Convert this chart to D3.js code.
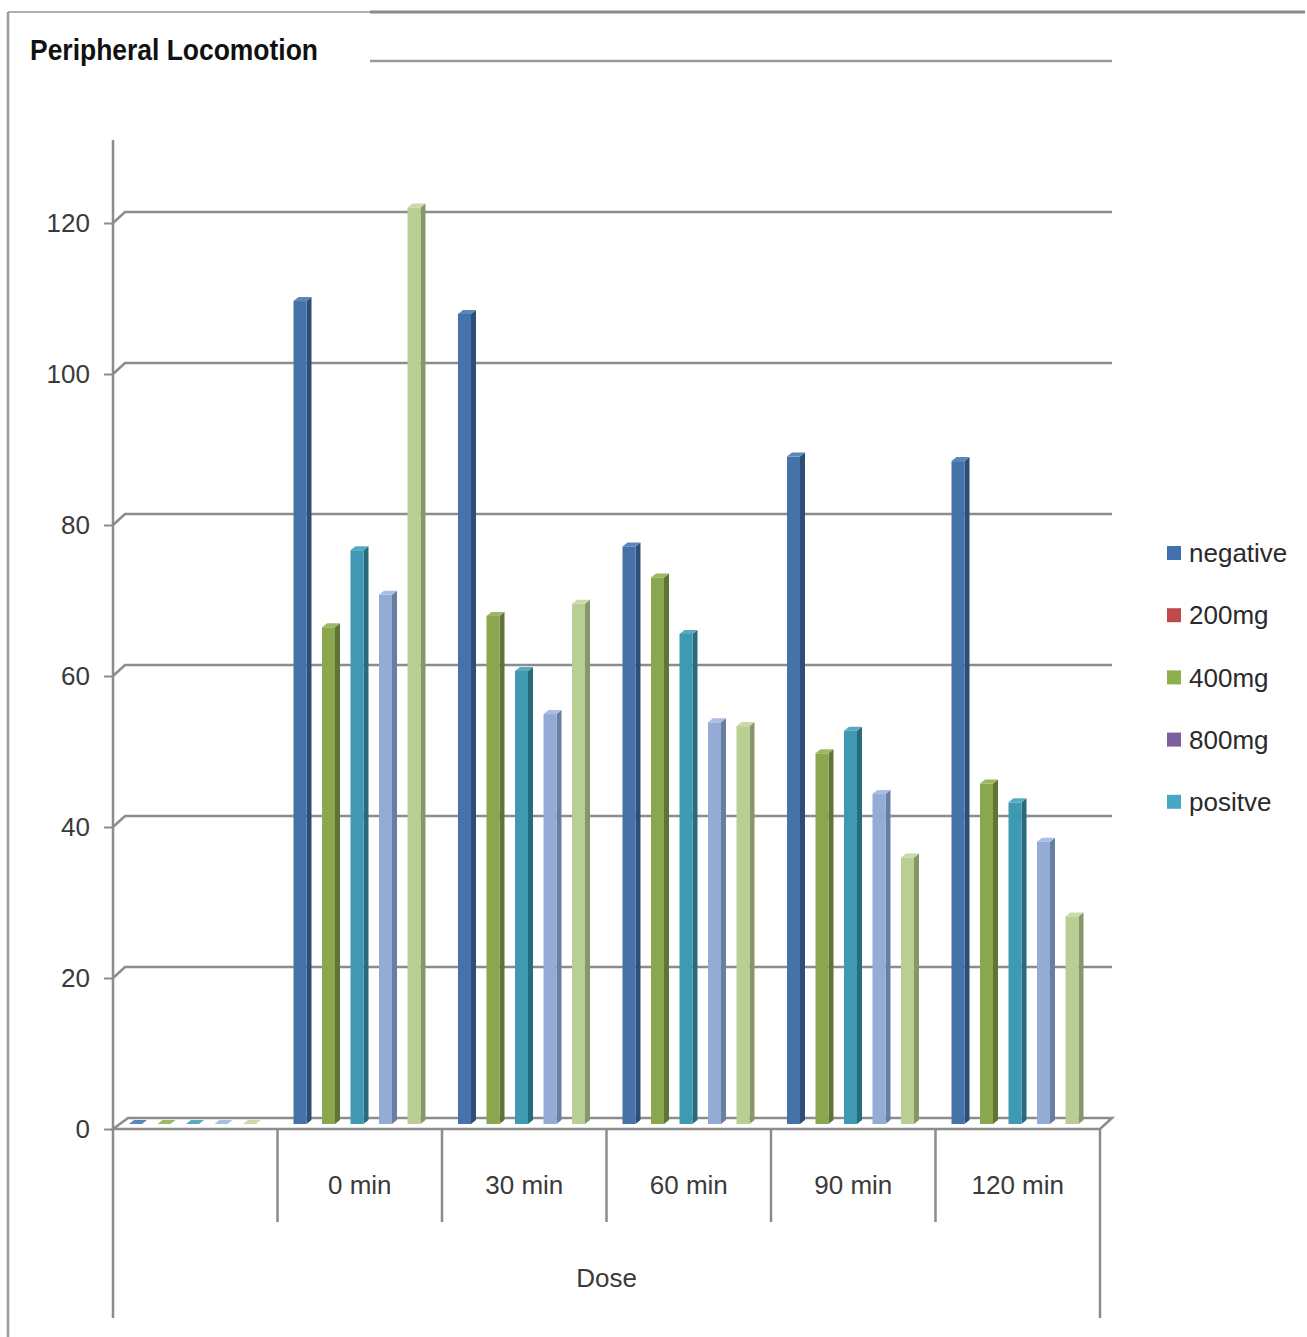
<!DOCTYPE html>
<html>
<head>
<meta charset="utf-8">
<script src="https://cdn.jsdelivr.net/npm/d3@7"></script>
<style>
  html, body { margin: 0; padding: 0; background: #fff; }
  svg { display: block; }
</style>
</head>
<body>
<svg id="chart" width="1307" height="1337"></svg>
<script>
// ---- data ----
const categories = ["", "0 min", "30 min", "60 min", "90 min", "120 min"];
const seriesNames = ["negative", "200mg", "400mg", "800mg", "positve"];
const negative = [0, 109, 107.3, 76.5, 88.4, 87.8];
const dose200 = [0, 65.8, 67.3, 72.4, 49.1, 45.1];
const dose400 = [0, 76, 60, 64.9, 52.1, 42.6];
const dose800 = [0, 70.1, 54.3, 53.2, 43.7, 37.4];
const positve = [0, 121.4, 68.9, 52.7, 35.3, 27.5];
const yTicks = [0, 20, 40, 60, 80, 100, 120];

const seriesValues = [negative, dose200, dose400, dose800, positve];
// column faces: front, side, top
const barColors = [
  ["#4572A9", "#2D4E78", "#5A86BC"],
  ["#8AA64E", "#5E7535", "#9DB864"],
  ["#3F99B2", "#296B7D", "#56ABC2"],
  ["#94ABD5", "#6A7DA2", "#A9BEE0"],
  ["#B8CE93", "#86986A", "#C8DBA8"]
];
const legendColors = ["#4170AD", "#BE4B48", "#8DB04F", "#7D5FA0", "#46A8C6"];

const svg = d3.select("#chart");
const FONT = "'Liberation Sans', Arial, sans-serif";

// ---- frame ----
const frame = svg.append("g").attr("fill", "none");
frame.append("line").attr("x1", 8).attr("y1", 12).attr("x2", 370).attr("y2", 12)
  .attr("stroke", "#b0b0b0").attr("stroke-width", 2);
frame.append("line").attr("x1", 370).attr("y1", 12).attr("x2", 1305).attr("y2", 12)
  .attr("stroke", "#8a8a8a").attr("stroke-width", 3);
frame.append("line").attr("x1", 8).attr("y1", 12).attr("x2", 8).attr("y2", 1337)
  .attr("stroke", "#9a9a9a").attr("stroke-width", 2.5);
frame.append("line").attr("x1", 370).attr("y1", 61).attr("x2", 1112).attr("y2", 61)
  .attr("stroke", "#999").attr("stroke-width", 2.5);

// ---- title ----
svg.append("text")
  .attr("x", 30).attr("y", 60)
  .attr("font-family", FONT).attr("font-weight", "bold").attr("font-size", 29)
  .attr("fill", "#111")
  .attr("textLength", 288).attr("lengthAdjust", "spacingAndGlyphs")
  .text("Peripheral Locomotion");

// ---- scales ----
const xLeft = 113, xRight = 1100;
const x = d3.scaleBand().domain(categories).range([xLeft, xRight]).paddingInner(0).paddingOuter(0);
const yBack = d3.scaleLinear().domain([0, 120]).range([1118, 212]);   // back wall
const yFront = d3.scaleLinear().domain([0, 120]).range([1129, 223]);  // front edge of side wall
const pitch = 28.5;
const xs = d3.scaleBand().domain(d3.range(seriesNames.length))
  .range([8.25, 8.25 + pitch * seriesNames.length])
  .paddingInner(0.544).paddingOuter(0.272);

const depthX = 12, depthY = -11; // wall depth offset
const barDX = 5, barDY = -4;       // column depth offset

const gridColor = "#8c8c8c";

// ---- back-wall gridlines and side-wall connectors ----
const grid = svg.append("g").attr("fill", "none").attr("stroke", gridColor).attr("stroke-width", 2.5);
yTicks.filter(v => v > 0).forEach(v => {
  grid.append("path")
    .attr("d", `M${xLeft},${yFront(v)} L${xLeft + depthX},${yBack(v)} L1112,${yBack(v)}`);
});

// ---- floor ----
const yF0 = yFront(0), yB0 = yBack(0);
svg.append("path")
  .attr("d", `M${xLeft},${yF0} L${xLeft + 15},${yB0} L1112,${yB0} L${xRight},${yF0} Z`)
  .attr("fill", "#fff").attr("stroke", gridColor).attr("stroke-width", 2.5);

// ---- y axis ----
const yAxis = svg.append("g")
  .attr("transform", `translate(${xLeft},0)`)
  .call(d3.axisLeft(yFront).tickValues(yTicks).tickSize(9).tickPadding(14).tickFormat(d3.format("d")));
yAxis.select(".domain").remove();
yAxis.selectAll(".tick line").attr("stroke", gridColor).attr("stroke-width", 2);
yAxis.selectAll(".tick text")
  .attr("font-family", FONT).attr("font-size", 26).attr("fill", "#3a3a3a");

// vertical axis line
svg.append("line").attr("x1", xLeft).attr("y1", 140).attr("x2", xLeft).attr("y2", 1318)
  .attr("stroke", gridColor).attr("stroke-width", 2.5);
svg.append("line").attr("x1", xRight).attr("y1", yF0).attr("x2", xRight).attr("y2", 1318)
  .attr("stroke", gridColor).attr("stroke-width", 2.5);

// category dividers
const bounds = categories.slice(1).map(c => x(c));
svg.append("g").selectAll("line").data(bounds).join("line")
  .attr("x1", d => d).attr("x2", d => d).attr("y1", yF0).attr("y2", 1222)
  .attr("stroke", gridColor).attr("stroke-width", 2.5);

// category labels
const xAxis = svg.append("g")
  .attr("transform", `translate(0,${1185})`)
  .call(d3.axisBottom(x).tickSize(0).tickPadding(0));
xAxis.select(".domain").remove();
xAxis.selectAll(".tick text")
  .attr("font-family", FONT).attr("font-size", 26).attr("fill", "#3a3a3a")
  .attr("dy", "0.35em");

svg.append("text")
  .attr("x", (xLeft + xRight) / 2).attr("y", 1278).attr("dy", "0.35em")
  .attr("text-anchor", "middle")
  .attr("font-family", FONT).attr("font-size", 26).attr("fill", "#3a3a3a")
  .text("Dose");

// ---- 3D columns ----
const base = yBack(0) + 6;
const bars = svg.append("g");
categories.forEach((cat, ci) => {
  seriesValues.forEach((vals, si) => {
    const v = vals[ci];
    const x0 = x(cat) + xs(si);
    const w = xs.bandwidth();
    const top = yBack(v) + 6;
    const h = Math.max(base - top, 0);
    const cols = barColors[si];
    const g = bars.append("g");
    // side face
    g.append("path")
      .attr("d", `M${x0 + w},${top} L${x0 + w + barDX},${top + barDY} L${x0 + w + barDX},${base + barDY} L${x0 + w},${base} Z`)
      .attr("fill", cols[1]);
    // front face
    g.append("rect").attr("x", x0).attr("y", top).attr("width", w).attr("height", h)
      .attr("fill", cols[0]);
    // top face
    g.append("path")
      .attr("d", `M${x0},${top} L${x0 + barDX},${top + barDY} L${x0 + w + barDX},${top + barDY} L${x0 + w},${top} Z`)
      .attr("fill", cols[2]);
  });
});

// ---- legend ----
const legend = svg.append("g").attr("transform", "translate(1167,553)");
const li = legend.selectAll("g").data(seriesNames).join("g")
  .attr("transform", (d, i) => `translate(0,${i * 62.2})`);
li.append("rect").attr("x", 0).attr("y", -7).attr("width", 14).attr("height", 14)
  .attr("fill", (d, i) => legendColors[i]);
li.append("text").attr("x", 22).attr("y", 0).attr("dy", "0.35em")
  .attr("font-family", FONT).attr("font-size", 26).attr("fill", "#2a2a2a")
  .text(d => d);
</script>
</body>
</html>
